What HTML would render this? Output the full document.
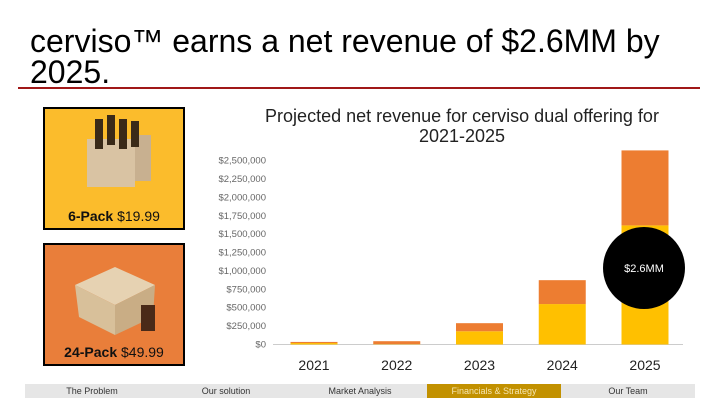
<!DOCTYPE html>
<html><head><meta charset="utf-8"><style>
body{margin:0;width:720px;height:405px;background:#fff;font-family:"Liberation Sans",sans-serif;position:relative;overflow:hidden}
.abs{position:absolute}
h1{position:absolute;left:30px;top:26px;margin:0;font-weight:normal;font-size:32px;line-height:31px;color:#000;width:670px}
.box{position:absolute;left:43px;width:138px;height:119px;border:2px solid #000}
.lbl{position:absolute;bottom:4px;left:0;right:0;text-align:center;font-size:14px;color:#111}
.nav{position:absolute;top:384px;height:14px;left:25px;width:670px;background:#e6e6e6;display:flex;font-size:9px;color:#333}
.nav div{flex:1;text-align:center;line-height:14px}
</style></head><body>
<h1>cerviso™ earns a net revenue of $2.6MM by 2025.</h1>
<div class="abs" style="left:18px;top:87px;width:682px;height:2px;background:#a01818"></div>
<div class="box" style="top:107px;background:#fbbc2c">
 <svg width="138" height="90"><rect x="42" y="30" width="48" height="48" fill="#d9c3a3"/><rect x="90" y="26" width="16" height="46" fill="#c8b090"/><g fill="#3a2a18"><rect x="50" y="10" width="8" height="30"/><rect x="62" y="6" width="8" height="30"/><rect x="74" y="10" width="8" height="30"/><rect x="86" y="12" width="8" height="26"/></g></svg>
 <div class="lbl"><b>6-Pack</b> $19.99</div></div>
<div class="box" style="top:243px;background:#e97e3a">
 <svg width="138" height="90"><polygon points="30,40 70,22 110,40 70,60" fill="#e6d2b2"/><polygon points="30,40 70,60 70,90 34,72" fill="#d8c09a"/><polygon points="70,60 110,40 108,72 70,90" fill="#c9ad85"/><rect x="96" y="60" width="14" height="26" fill="#4a2a18"/></svg>
 <div class="lbl"><b>24-Pack</b> $49.99</div></div>
<div class="abs" style="left:212px;top:106px;width:500px;text-align:center;font-size:18px;line-height:20px;color:#222">Projected net revenue for cerviso dual offering for<br>2021-2025</div>
<svg id="chart" class="abs" style="left:0;top:0" width="720" height="380"></svg>
<div class="nav">
<div>The Problem</div>
<div>Our solution</div>
<div>Market Analysis</div>
<div style="background:#c29100;color:#f6e6b0">Financials &amp; Strategy</div>
<div>Our Team</div></div>
<script>
const years=["2021","2022","2023","2024","2025"];
const sixPack=[20000,5000,180000,550000,1620000];
const twentyFourPack=[15000,40000,110000,325000,1020000];
const ticks=[0,250000,500000,750000,1000000,1250000,1500000,1750000,2000000,2250000,2500000];
const tickLabels=["$0","$250,000","$500,000","$750,000","$1,000,000","$1,250,000","$1,500,000","$1,750,000","$2,000,000","$2,250,000","$2,500,000"];
const ns="http://www.w3.org/2000/svg",svg=document.getElementById('chart');
const y0=344.5,pxPer=(344.5-160.7)/2500000;
const y=v=>y0-v*pxPer;
const x=i=>314+i*82.75;
function mk(t,a){const e=document.createElementNS(ns,t);for(const k in a)e.setAttribute(k,a[k]);svg.appendChild(e);return e;}
ticks.forEach((t,i)=>{const e=mk('text',{x:266,y:y(t)+3,'text-anchor':'end','font-size':9.5,fill:'#666','font-family':'Liberation Sans'});e.textContent=tickLabels[i];

});
const ax=mk('line',{x1:273,x2:683,y1:y0,y2:y0,stroke:'#ccc'});


years.forEach((yr,i)=>{
 const a=mk('rect',{x:x(i)-23.5,width:47,y:y(sixPack[i]),height:sixPack[i]*pxPer,fill:'#ffc000'});
 
 
 const b=mk('rect',{x:x(i)-23.5,width:47,y:y(sixPack[i]+twentyFourPack[i]),height:twentyFourPack[i]*pxPer,fill:'#ed7d31'});
 
 
 const t=mk('text',{x:x(i),y:370,'text-anchor':'middle','font-size':14,fill:'#222','font-family':'Liberation Sans'});t.textContent=yr;
 
 
});
const c=mk('circle',{cx:644,cy:268,r:41,fill:'#000'});


const ct=mk('text',{x:644,y:272,'text-anchor':'middle','font-size':11,fill:'#fff','font-family':'Liberation Sans'});ct.textContent='$2.6MM';


</script>
</body></html>
